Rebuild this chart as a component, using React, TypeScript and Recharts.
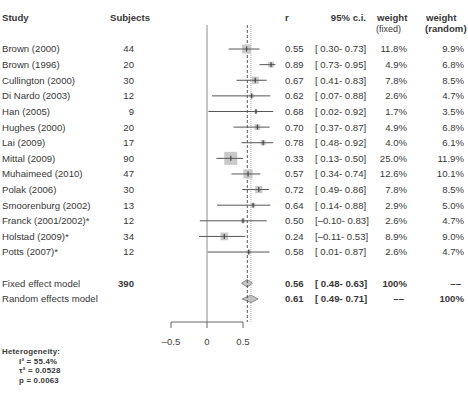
import React from "react";
import {
  ScatterChart,
  Scatter,
  XAxis,
  YAxis,
  ErrorBar,
  ReferenceLine,
  ReferenceArea,
  Customized,
} from "recharts";

// ---- study data ----
const studies = [
  "Brown (2000)",
  "Brown (1996)",
  "Cullington (2000)",
  "Di Nardo (2003)",
  "Han (2005)",
  "Hughes (2000)",
  "Lai (2009)",
  "Mittal (2009)",
  "Muhaimeed (2010)",
  "Polak (2006)",
  "Smoorenburg (2002)",
  "Franck (2001/2002)*",
  "Holstad (2009)*",
  "Potts (2007)*",
];
const subjects = [44, 20, 30, 12, 9, 20, 17, 90, 47, 30, 13, 12, 34, 12];
const corr = [0.55, 0.89, 0.67, 0.62, 0.68, 0.7, 0.78, 0.33, 0.57, 0.72, 0.64, 0.5, 0.24, 0.58];
const ciLow = [0.3, 0.73, 0.41, 0.07, 0.02, 0.37, 0.48, 0.13, 0.34, 0.49, 0.14, -0.1, -0.11, 0.01];
const ciHigh = [0.73, 0.95, 0.83, 0.88, 0.92, 0.87, 0.92, 0.5, 0.74, 0.86, 0.88, 0.83, 0.53, 0.87];
const weightFixed = [11.8, 4.9, 7.8, 2.6, 1.7, 4.9, 4.0, 25.0, 12.6, 7.8, 2.9, 2.6, 8.9, 2.6];
const weightRandom = [9.9, 6.8, 8.5, 4.7, 3.5, 6.8, 6.1, 11.9, 10.1, 8.5, 5.0, 4.7, 9.0, 4.7];

// ---- pooled estimates ----
const NA = "\u2013\u2013";
const totalSubjects = 390;
const fixedModel = { label: "Fixed effect model", r: 0.56, lo: 0.48, hi: 0.63, wf: "100%", wr: NA };
const randomModel = { label: "Random effects model", r: 0.61, lo: 0.49, hi: 0.71, wf: NA, wr: "100%" };

// ---- heterogeneity ----
const heterogeneityLines = ["I\u00B2 = 55.4%", "\u03C4\u00B2 = 0.0528", "p = 0.0063"];

// ---- axis ticks ----
const axisTicks = [-0.5, 0, 0.5];

// ---- layout ----
const W = 468;
const H = 395;
const X_DOMAIN: [number, number] = [-2.875, 3.625];
const ROW_DOMAIN: [number, number] = [-3.14, 17.48];
const LINE_TOP = -1.54;
const FIXED_ROW = studies.length + 1;
const RANDOM_ROW = studies.length + 2;
const FONT = "'Liberation Sans', Arial, Helvetica, sans-serif";
const TEXT = "#383838";
const FS = 9.6;

const col = {
  study: 2,
  subjects: 134,
  r: 285,
  ci: 315,
  wf: 407,
  wr: 464,
};

const fmt = (v: number) => (v < 0 ? "\u2013" + Math.abs(v).toFixed(2) : " " + v.toFixed(2));
const ciText = (lo: number, hi: number) => `[${fmt(lo)}-${fmt(hi)}]`;
const pct = (v: number) => v.toFixed(1) + "%";

const studyRows = studies.map((name, i) => ({
  name,
  row: i,
  n: subjects[i],
  r: corr[i],
  lo: ciLow[i],
  hi: ciHigh[i],
  wf: weightFixed[i],
  wr: weightRandom[i],
  err: [corr[i] - ciLow[i], ciHigh[i] - corr[i]],
}));

const summaryRows = [
  { ...fixedModel, row: FIXED_ROW, n: totalSubjects },
  { ...randomModel, row: RANDOM_ROW, n: null as number | null },
];

const txt = (
  x: number,
  y: number,
  s: string | number,
  anchor: "start" | "end" | "middle" = "start",
  bold = false,
  key?: string
) => (
  <text
    key={key}
    x={x}
    y={y}
    textAnchor={anchor}
    fontFamily={FONT}
    fontSize={FS}
    fontWeight={bold ? "bold" : "normal"}
    fill={TEXT}
    style={{ whiteSpace: "pre" }}
  >
    {s}
  </text>
);

// Weighted square plus row text for each study
const StudyMark = (props: any) => {
  const { cx, cy, payload } = props;
  if (cx == null || cy == null) return null;
  const side = 2.6 * Math.sqrt(payload.wf);
  const base = cy + 3.4;
  return (
    <g>
      <rect x={cx - side / 2} y={cy - side / 2} width={side} height={side} fill="#c9c9c9" />
      <line x1={cx - side / 2} x2={cx + side / 2} y1={cy} y2={cy} stroke="#555" strokeWidth={1} />
      <line x1={cx} x2={cx} y1={cy - 2.5} y2={cy + 2.5} stroke="#444" strokeWidth={1.2} />
      {txt(col.study, base, payload.name)}
      {txt(col.subjects, base, payload.n, "end")}
      {txt(col.r, base, payload.r.toFixed(2))}
      {txt(col.ci, base, ciText(payload.lo, payload.hi))}
      {txt(col.wf, base, pct(payload.wf), "end")}
      {txt(col.wr, base, pct(payload.wr), "end")}
    </g>
  );
};

// Text for the pooled model rows
const SummaryText = (props: any) => {
  const { cy, payload } = props;
  if (cy == null) return null;
  const base = cy + 3.4;
  return (
    <g>
      {txt(col.study, base, payload.label)}
      {payload.n != null ? txt(col.subjects, base, payload.n, "end", true) : null}
      {txt(col.r, base, payload.r.toFixed(2), "start", true)}
      {txt(col.ci, base, ciText(payload.lo, payload.hi), "start", true)}
      {txt(payload.wf === NA ? col.wf - 3 : col.wf, base, payload.wf, "end", true)}
      {txt(payload.wr === NA ? col.wr - 3 : col.wr, base, payload.wr, "end", true)}
    </g>
  );
};

const diamondShape = (est: { r: number; lo: number; hi: number }) => (props: any) => {
  const { x, y, width, height } = props;
  const apex = x + (width * (est.r - est.lo)) / (est.hi - est.lo);
  const midY = y + height / 2;
  const pts = `${x},${midY} ${apex},${y} ${x + width},${midY} ${apex},${y + height}`;
  return <polygon points={pts} fill="#c4c4c4" stroke="#8a8a8a" strokeWidth={1} />;
};

const Headers = () => (
  <g fontFamily={FONT} fill={TEXT}>
    <text x={2} y={20.5} fontSize={FS} fontWeight="bold">Study</text>
    <text x={110} y={20.5} fontSize={FS} fontWeight="bold">Subjects</text>
    <text x={285} y={20.5} fontSize={FS} fontWeight="bold">r</text>
    <text x={366} y={20.5} fontSize={FS} fontWeight="bold" textAnchor="end">95% c.i.</text>
    <text x={377} y={20.5} fontSize={FS} fontWeight="bold">weight</text>
    <text x={376} y={32} fontSize={FS - 0.6}>(fixed)</text>
    <text x={426} y={20.5} fontSize={FS} fontWeight="bold">weight</text>
    <text x={425} y={32} fontSize={FS} fontWeight="bold">(random)</text>
    <text x={2} y={354} fontSize={7.9} fontWeight="bold" letterSpacing={0.2}>Heterogeneity:</text>
    {heterogeneityLines.map((s, i) => (
      <text key={s} x={19} y={363.5 + i * 9.5} fontSize={7.9} fontWeight="bold" letterSpacing={0.2}>
        {s}
      </text>
    ))}
  </g>
);

export default function App() {
  return (
    <div style={{ position: "absolute", left: 0, top: 0, background: "#fff" }}>
      <ScatterChart width={W} height={H} margin={{ top: 0, right: 0, bottom: 0, left: 0 }}>
        <XAxis
          type="number"
          dataKey="r"
          domain={X_DOMAIN}
          ticks={axisTicks}
          axisLine={false}
          tickLine={{ stroke: "#666" }}
          tickSize={6}
          tickMargin={10}
          height={73}
          interval={0}
          tick={{ fontSize: FS, fill: "#444", fontFamily: FONT }}
          tickFormatter={(v: number) => (v < 0 ? "\u2013" + Math.abs(v) : String(v))}
        />
        <YAxis type="number" dataKey="row" domain={ROW_DOMAIN} reversed hide />

        {/* null-effect line and pooled-estimate lines */}
        <ReferenceLine
          segment={[{ x: 0, y: LINE_TOP }, { x: 0, y: ROW_DOMAIN[1] }]}
          stroke="#8c8c8c"
          strokeWidth={1}
        />
        <ReferenceLine
          segment={[{ x: fixedModel.r, y: LINE_TOP }, { x: fixedModel.r, y: ROW_DOMAIN[1] }]}
          stroke="#555"
          strokeWidth={1}
          strokeDasharray="3 2"
        />
        <ReferenceLine
          segment={[{ x: randomModel.r, y: LINE_TOP }, { x: randomModel.r, y: ROW_DOMAIN[1] }]}
          stroke="#b0b0b0"
          strokeWidth={1}
          strokeDasharray="1 1"
        />
        {/* x axis baseline */}
        <ReferenceLine
          segment={[{ x: axisTicks[0], y: ROW_DOMAIN[1] }, { x: axisTicks[axisTicks.length - 1], y: ROW_DOMAIN[1] }]}
          stroke="#666"
          strokeWidth={1}
        />

        <Scatter data={studyRows} shape={StudyMark} isAnimationActive={false}>
          <ErrorBar dataKey="err" direction="x" width={0} stroke="#555" strokeWidth={1} />
        </Scatter>
        <Scatter data={summaryRows} shape={SummaryText} isAnimationActive={false} />

        {[fixedModel, randomModel].map((m, i) => (
          <ReferenceArea
            key={m.label}
            x1={m.lo}
            x2={m.hi}
            y1={(i === 0 ? FIXED_ROW : RANDOM_ROW) - 0.24}
            y2={(i === 0 ? FIXED_ROW : RANDOM_ROW) + 0.24}
            shape={diamondShape(m)}
          />
        ))}

        <Customized component={Headers} />
      </ScatterChart>
    </div>
  );
}
